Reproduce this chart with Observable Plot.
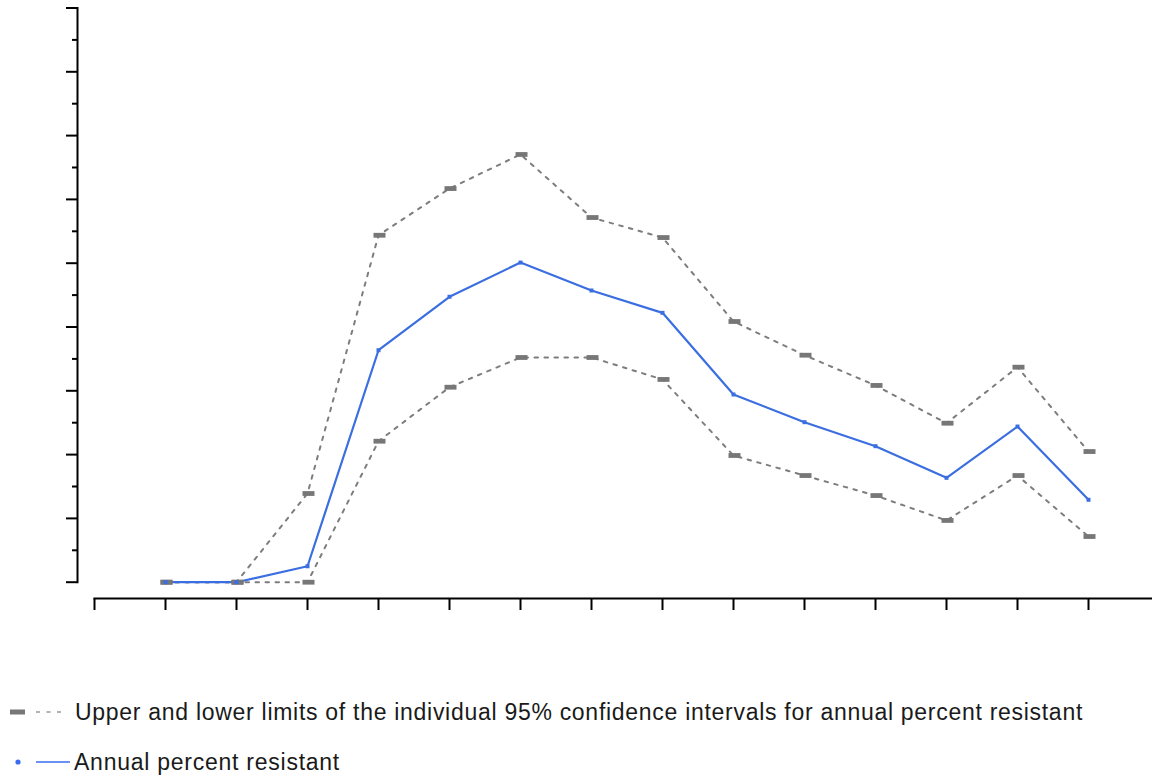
<!DOCTYPE html>
<html>
<head>
<meta charset="utf-8">
<script src="https://cdn.jsdelivr.net/npm/d3@7"></script>
<script src="https://cdn.jsdelivr.net/npm/@observablehq/plot@0.6"></script>
<style>
  body { margin: 0; background: #fff; font-family: "Liberation Sans", Arial, sans-serif; }
  #chart svg { display: block; }
  #legend { position: relative; width: 1152px; height: 138px; }
  .row { position: absolute; left: 0; height: 30px; width: 1152px; }
  .row svg { position: absolute; left: 0; top: 0; }
  .row span { position: absolute; top: 50%; transform: translateY(-50%); font-size: 23px; color: #1a1a1a; white-space: nowrap; line-height: 1; }
</style>
</head>
<body>
<div id="chart"></div>
<div id="legend">
  <div class="row" id="row1" style="top:57px">
    <svg width="75" height="30">
      <rect x="10" y="12.5" width="15" height="5" fill="#777"></rect>
      <line x1="36" x2="67" y1="15" y2="15" stroke="#999" stroke-width="1.3" stroke-dasharray="4,6.5"></line>
    </svg>
    <span id="t1" style="left:75px">Upper and lower limits of the individual 95% confidence intervals for annual percent resistant</span>
  </div>
  <div class="row" id="row2" style="top:106.5px">
    <svg width="75" height="30">
      <circle cx="18" cy="15" r="2.6" fill="#3b6cf0"></circle>
      <line x1="36" x2="70" y1="15" y2="15" stroke="#3b6cf0" stroke-width="1.5"></line>
    </svg>
    <span id="t2" style="left:74px">Annual percent resistant</span>
  </div>
</div>
<script>
// Data
const years   = [2003, 2004, 2005, 2006, 2007, 2008, 2009, 2010, 2011, 2012, 2013, 2014, 2015, 2016];
const percent = [0, 0, 1.25, 18.18, 22.37, 25.05, 22.86, 21.11, 14.71, 12.54, 10.66, 8.18, 12.20, 6.46];
const upper   = [0, 0, 6.95, 27.19, 30.85, 33.52, 28.58, 27.01, 20.43, 17.79, 15.42, 12.46, 16.85, 10.24];
const lower   = [0, 0, 0, 11.05, 15.28, 17.61, 17.61, 15.89, 9.93, 8.36, 6.79, 4.84, 8.36, 3.58];
const xTicks  = [2002, 2003, 2004, 2005, 2006, 2007, 2008, 2009, 2010, 2011, 2012, 2013, 2014, 2015, 2016];
const yMajorTicks = [0, 5, 10, 15, 20, 25, 30, 35, 40, 45];
const yMinorTicks = [2.5, 7.5, 12.5, 17.5, 22.5, 27.5, 32.5, 37.5, 42.5];

const rows = years.map((year, i) => ({year, percent: percent[i], upper: upper[i], lower: lower[i]}));

const blue = "#3b6ee0";
const gray = "#7d7d7d";
const barSymbol = { draw(ctx) { ctx.rect(-6, -2.4, 12, 4.8); } };
const squareSymbol = { draw(ctx) { ctx.rect(-2, -2, 4, 4); } };
const blank = () => "";

const chart = Plot.plot({
  width: 1152,
  height: 640,
  marginTop: 7.5,
  marginLeft: 77,
  marginRight: 0,
  marginBottom: 42,
  x: { domain: [2002, 2002 + 1058 / 71], insetLeft: 17 },
  y: { domain: [0, 45], insetBottom: 16.3 },
  marks: [
    Plot.frame({ anchor: "left", insetBottom: 16.3, stroke: "#000", strokeWidth: 2 }),
    Plot.frame({ anchor: "bottom", insetLeft: 17, stroke: "#000", strokeWidth: 2 }),
    Plot.axisY({ ticks: yMajorTicks, tickSize: 11, tickFormat: blank, label: null, strokeWidth: 2, stroke: "#000" }),
    Plot.axisY({ ticks: yMinorTicks, tickSize: 5, tickFormat: blank, label: null, strokeWidth: 2, stroke: "#000" }),
    Plot.axisX({ ticks: xTicks, tickSize: 12, tickFormat: blank, label: null, strokeWidth: 2, stroke: "#000" }),
    Plot.line(rows, { x: "year", y: "upper", stroke: gray, strokeWidth: 2, strokeDasharray: "3.5,6.5" }),
    Plot.line(rows, { x: "year", y: "lower", stroke: gray, strokeWidth: 2, strokeDasharray: "3.5,6.5" }),
    Plot.line(rows, { x: "year", y: "percent", stroke: blue, strokeWidth: 2.2 }),
    Plot.dot(rows, { x: "year", y: "upper", symbol: barSymbol, fill: "#777", stroke: "none", dx: 1 }),
    Plot.dot(rows, { x: "year", y: "lower", symbol: barSymbol, fill: "#777", stroke: "none", dx: 1 }),
    Plot.dot(rows, { x: "year", y: "percent", symbol: squareSymbol, fill: blue, stroke: "none" })
  ]
});
document.getElementById("chart").appendChild(chart);

// fit legend text widths to the reference
function fit(id, target) {
  const el = document.getElementById(id);
  const w = el.getBoundingClientRect().width;
  const n = el.textContent.length;
  el.style.letterSpacing = ((target - w) / n) + "px";
}
fit("t1", 1008);
fit("t2", 266);
</script>
</body>
</html>
